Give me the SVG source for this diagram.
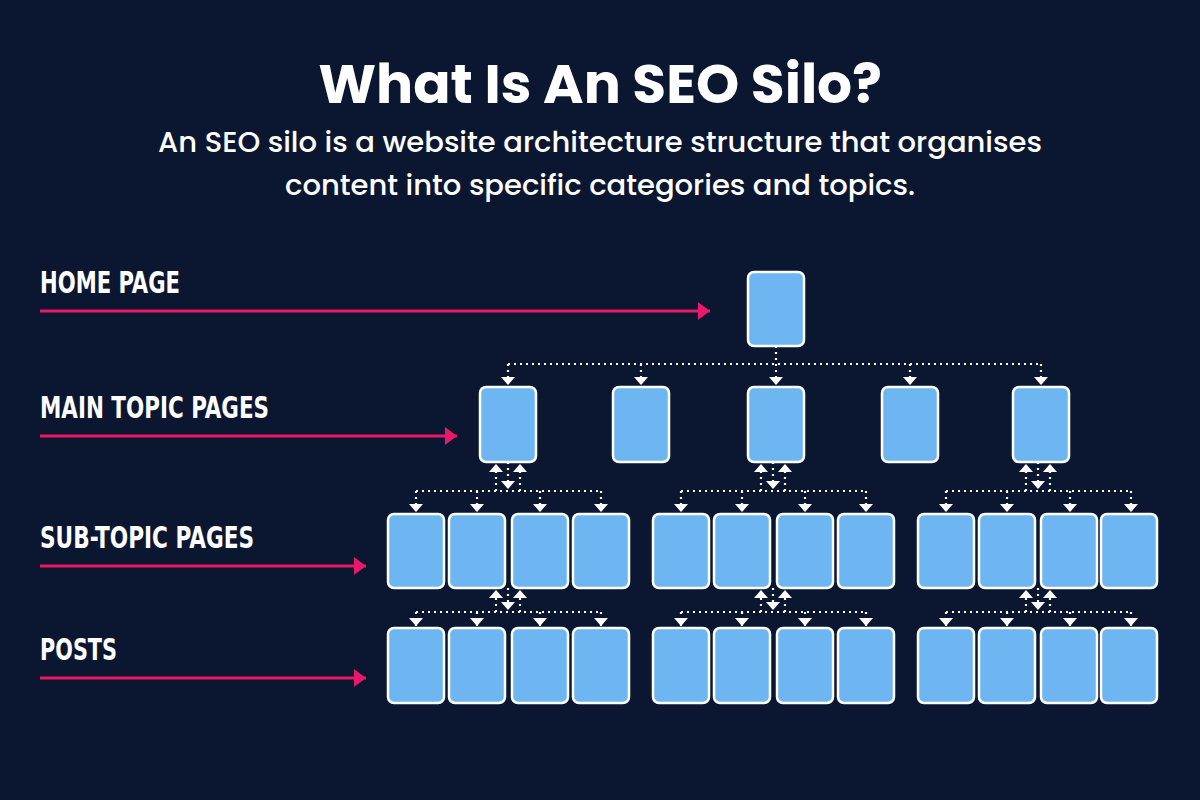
<svg xmlns="http://www.w3.org/2000/svg" width="1200" height="800" viewBox="0 0 1200 800">
<defs>
<style>
.n{fill:#6db6f2;stroke:#fff;stroke-width:2.5}
.d{stroke:#fff;stroke-width:2.2;stroke-dasharray:2 4;fill:none}
.a{stroke:#fff;stroke-width:2.2;stroke-dasharray:2 4;fill:none;marker-end:url(#w)}
.p{stroke:#e8186a;stroke-width:3;fill:none;marker-end:url(#pk)}
.lab{font-family:"DejaVu Sans Condensed","DejaVu Sans",sans-serif;font-weight:bold;font-size:30px;fill:#fff}
.t{font-family:Poppins,"Open Sans",Lato,sans-serif;fill:#fff;text-anchor:middle}
</style>
<marker id="w" viewBox="0 0 8 14" refX="8" refY="7" markerWidth="8" markerHeight="14" markerUnits="userSpaceOnUse" orient="auto"><path d="M0,0 L8,7 L0,14z" fill="#fff"/></marker>
<marker id="pk" viewBox="0 0 10 10" refX="10" refY="5" markerWidth="12" markerHeight="18" markerUnits="userSpaceOnUse" orient="auto" preserveAspectRatio="none"><path d="M0,0 L10,5 L0,10z" fill="#e8186a"/></marker>
<g id="grp">
<path class="d" d="M416 491H601M416 612H601"/>
<path class="a" d="M496 491V464"/><path class="a" d="M520 491V464"/><path class="a" d="M508 462V489"/>
<path class="a" d="M416 491V512"/><path class="a" d="M477 491V512"/><path class="a" d="M540 491V512"/><path class="a" d="M601 491V512"/>
<path class="a" d="M496 612V590"/><path class="a" d="M520 612V590"/><path class="a" d="M508 588V610"/>
<path class="a" d="M416 612V626"/><path class="a" d="M477 612V626"/><path class="a" d="M540 612V626"/><path class="a" d="M601 612V626"/>
</g>
</defs>
<rect width="1200" height="800" fill="#0b1631"/>
<text class="t" x="600" y="103" font-size="55" font-weight="bold">What Is An SEO Silo?</text>
<text class="t" x="600" y="152" font-size="29" font-weight="500">An SEO silo is a website architecture structure that organises</text>
<text class="t" x="600" y="195" font-size="29" font-weight="500">content into specific categories and topics.</text>
<g id="labels">
<text class="lab" x="40" y="293" textLength="140" lengthAdjust="spacingAndGlyphs">HOME PAGE</text>
<text class="lab" x="40" y="418" textLength="229" lengthAdjust="spacingAndGlyphs">MAIN TOPIC PAGES</text>
<text class="lab" x="40" y="548" textLength="214" lengthAdjust="spacingAndGlyphs">SUB-TOPIC PAGES</text>
<text class="lab" x="40" y="660" textLength="77" lengthAdjust="spacingAndGlyphs">POSTS</text>
</g>
<g id="connectors">
<path class="p" d="M40 311H710"/>
<path class="p" d="M40 436H457"/>
<path class="p" d="M40 566H366"/>
<path class="p" d="M40 678H366"/>
<path class="d" d="M776 346V364M508 364H1041"/>
<path class="a" d="M508 364V385"/><path class="a" d="M641 364V385"/><path class="a" d="M776 364V385"/><path class="a" d="M910 364V385"/><path class="a" d="M1041 364V385"/>
<use href="#grp"/>
<use href="#grp" x="265"/>
<use href="#grp" x="530"/>
</g>
<g id="home"><rect class="n" x="748" y="272" width="56" height="74" rx="6"/></g>
<g id="main">
<rect class="n" x="480" y="387" width="56" height="75" rx="6"/>
<rect class="n" x="613" y="387" width="56" height="75" rx="6"/>
<rect class="n" x="748" y="387" width="56" height="75" rx="6"/>
<rect class="n" x="882" y="387" width="56" height="75" rx="6"/>
<rect class="n" x="1013" y="387" width="56" height="75" rx="6"/>
</g>
<g id="sub">
<rect class="n" x="388" y="514" width="56" height="74" rx="6"/>
<rect class="n" x="449" y="514" width="56" height="74" rx="6"/>
<rect class="n" x="512" y="514" width="56" height="74" rx="6"/>
<rect class="n" x="573" y="514" width="56" height="74" rx="6"/>
<rect class="n" x="653" y="514" width="56" height="74" rx="6"/>
<rect class="n" x="714" y="514" width="56" height="74" rx="6"/>
<rect class="n" x="777" y="514" width="56" height="74" rx="6"/>
<rect class="n" x="838" y="514" width="56" height="74" rx="6"/>
<rect class="n" x="918" y="514" width="56" height="74" rx="6"/>
<rect class="n" x="979" y="514" width="56" height="74" rx="6"/>
<rect class="n" x="1041" y="514" width="56" height="74" rx="6"/>
<rect class="n" x="1101" y="514" width="56" height="74" rx="6"/>
</g>
<g id="posts">
<rect class="n" x="388" y="628" width="56" height="75" rx="6"/>
<rect class="n" x="449" y="628" width="56" height="75" rx="6"/>
<rect class="n" x="512" y="628" width="56" height="75" rx="6"/>
<rect class="n" x="573" y="628" width="56" height="75" rx="6"/>
<rect class="n" x="653" y="628" width="56" height="75" rx="6"/>
<rect class="n" x="714" y="628" width="56" height="75" rx="6"/>
<rect class="n" x="777" y="628" width="56" height="75" rx="6"/>
<rect class="n" x="838" y="628" width="56" height="75" rx="6"/>
<rect class="n" x="918" y="628" width="56" height="75" rx="6"/>
<rect class="n" x="979" y="628" width="56" height="75" rx="6"/>
<rect class="n" x="1041" y="628" width="56" height="75" rx="6"/>
<rect class="n" x="1101" y="628" width="56" height="75" rx="6"/>
</g>
</svg>
